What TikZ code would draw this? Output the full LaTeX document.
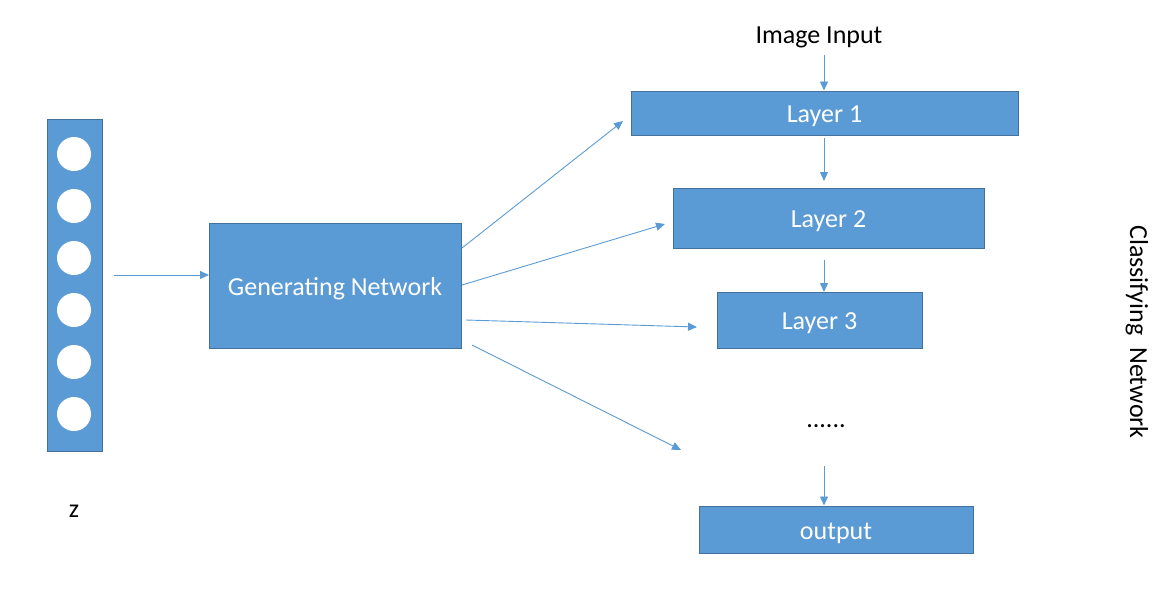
\documentclass[tikz,border=0pt]{standalone}
\usepackage{fontspec}
\setmainfont{Carlito}
\usetikzlibrary{arrows.meta}
\definecolor{boxfill}{HTML}{5B9BD5}
\definecolor{boxline}{HTML}{41719C}
\tikzset{
  blk/.style={draw=boxline, fill=boxfill, line width=1pt, inner sep=0pt, text=white, font=\fontsize{26}{30}\selectfont, text height=19pt, text depth=0pt},
  conn/.style={draw=boxfill, line width=0.9pt, -{Triangle[length=9pt,width=8pt]}},
  lbl/.style={font=\fontsize{26}{30}\selectfont, text=black, text height=19pt, text depth=0pt},
  sidelbl/.style={font=\fontsize{26}{30}\selectfont, text=black},
}
\begin{document}
\begin{tikzpicture}[x=1pt,y=-1pt]
\useasboundingbox (0,0) rectangle (1174,603);
% z column
\node[blk, minimum width=55pt, minimum height=332pt] (zcol) at (74.5,285) {};
\foreach \i/\yy in {1/154,2/206,3/258,4/310,5/362,6/414}{
  \node[circle, fill=white, minimum size=34pt, inner sep=0pt] (c\i) at (74,\yy) {};
}
\node[lbl] (zlab) at (74,508) {z};
% generating network
\node[blk, minimum width=252pt, minimum height=125pt] (gen) at (335,285.5) {Generating Network};
% layers
\node[blk, minimum width=387pt, minimum height=44pt] (l1) at (824.5,113) {Layer 1};
\node[blk, minimum width=311pt, minimum height=60pt] (l2) at (828.5,218) {Layer 2};
\node[blk, minimum width=205pt, minimum height=56pt] (l3) at (819.5,320) {Layer 3};
\node[blk, minimum width=274pt, minimum height=47pt] (out) at (836,529.5) {output};
\node[lbl] (img) at (819,34) {Image Input};
\node[lbl] (dots) at (826,418) {......};
\node[sidelbl, rotate=-90] (cls) at (1137,332) {Classifying\ \ Network};
% coordinates
\coordinate (zs) at (114,275);
\coordinate (ze) at (209,275);
\coordinate (i1) at (824,55);
\coordinate (l1s) at (824,138);
\coordinate (l2e) at (824,181);
\coordinate (l2s) at (824,260);
\coordinate (l3e) at (824,292);
\coordinate (ds) at (824,466);
\coordinate (g1s) at (462,248);
\coordinate (g1e) at (623,121);
\coordinate (g2s) at (462,285);
\coordinate (g2e) at (665,224);
\coordinate (g3s) at (466,320);
\coordinate (g3e) at (697,327);
\coordinate (g4s) at (472,345);
\coordinate (g4e) at (681,450);
% connectors
\draw[conn] (zs) -- (ze);
\draw[conn] (i1) -- (l1.north -| i1);
\draw[conn] (l1s) -- (l2e);
\draw[conn] (l2s) -- (l3e);
\draw[conn] (ds) -- (out.north -| ds);
\draw[conn] (g1s) -- (g1e);
\draw[conn] (g2s) -- (g2e);
\draw[conn] (g3s) -- (g3e);
\draw[conn] (g4s) -- (g4e);
\end{tikzpicture}
\end{document}
